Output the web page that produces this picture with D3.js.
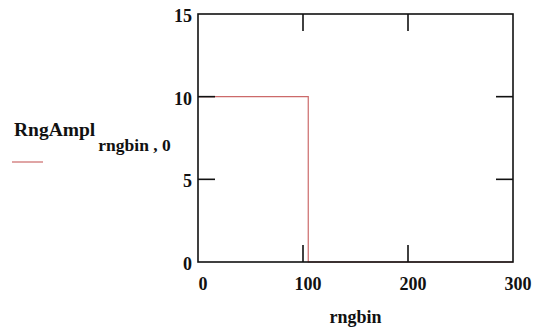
<!DOCTYPE html>
<html>
<head>
<meta charset="utf-8">
<script src="https://cdn.jsdelivr.net/npm/d3@7"></script>
<style>
  body { margin: 0; background: #fff; }
  text { font-family: 'Liberation Serif', 'DejaVu Serif', serif; font-weight: bold; fill: #111; }
</style>
</head>
<body>
<script>
// data
const rngbin = [0, 105, 105, 300]
const rngAmpl = [10, 10, 0, 0]
const xTicks = [0, 100, 200, 300]
const yTicks = [0, 5, 10, 15]

const width = 533
const height = 331
const box = { left: 198, right: 513, top: 14, bottom: 262 }

const svg = d3.select('body').append('svg')
  .attr('width', width)
  .attr('height', height)

const x = d3.scaleLinear().domain([0, 300]).range([box.left, box.right])
const y = d3.scaleLinear().domain([0, 15]).range([box.bottom, box.top])

// red trace
const points = rngbin.map((v, i) => [v, rngAmpl[i]])
svg.append('path')
  .datum(points)
  .attr('fill', 'none')
  .attr('stroke', '#cc6a6a')
  .attr('stroke-width', 1.2)
  .attr('d', d3.line().x(d => x(d[0])).y(d => y(d[1])))

// frame
svg.append('rect')
  .attr('x', box.left)
  .attr('y', box.top)
  .attr('width', box.right - box.left)
  .attr('height', box.bottom - box.top)
  .attr('fill', 'none')
  .attr('stroke', '#111')
  .attr('stroke-width', 1.6)

// inside ticks, Mathcad style (on all four sides)
const tickLen = 17
const inner = xTicks.slice(1, -1)
const ticks = svg.append('g').attr('stroke', '#111').attr('stroke-width', 1.6)
inner.forEach(v => {
  ticks.append('line').attr('x1', x(v)).attr('x2', x(v)).attr('y1', box.top).attr('y2', box.top + tickLen)
  ticks.append('line').attr('x1', x(v)).attr('x2', x(v)).attr('y1', box.bottom).attr('y2', box.bottom - tickLen)
})
yTicks.slice(1, -1).forEach(v => {
  ticks.append('line').attr('x1', box.left).attr('x2', box.left + tickLen).attr('y1', y(v)).attr('y2', y(v))
  ticks.append('line').attr('x1', box.right).attr('x2', box.right - tickLen).attr('y1', y(v)).attr('y2', y(v))
})

// tick labels
svg.append('g').selectAll('text')
  .data(xTicks)
  .join('text')
  .attr('x', d => x(d) + 5)
  .attr('y', box.bottom + 28)
  .attr('text-anchor', 'middle')
  .attr('font-size', 18)
  .text(d => d)

svg.append('g').selectAll('text')
  .data(yTicks)
  .join('text')
  .attr('x', box.left - 6)
  .attr('y', d => y(d) + 8)
  .attr('text-anchor', 'end')
  .attr('font-size', 18)
  .text(d => d)

// axis title
svg.append('text')
  .attr('x', (box.left + box.right) / 2)
  .attr('y', 323)
  .attr('text-anchor', 'middle')
  .attr('font-size', 18)
  .text('rngbin')

// legend
const legend = svg.append('text')
  .attr('x', 14)
  .attr('y', 136)
  .attr('font-size', 19.5)
legend.append('tspan').text('RngAmpl')
legend.append('tspan')
  .attr('dx', 3)
  .attr('dy', 15)
  .attr('font-size', 17.5)
  .text('rngbin , 0')

svg.append('line')
  .attr('x1', 12).attr('x2', 43)
  .attr('y1', 162).attr('y2', 162)
  .attr('stroke', '#cc6a6a')
  .attr('stroke-width', 1.2)
</script>
</body>
</html>
